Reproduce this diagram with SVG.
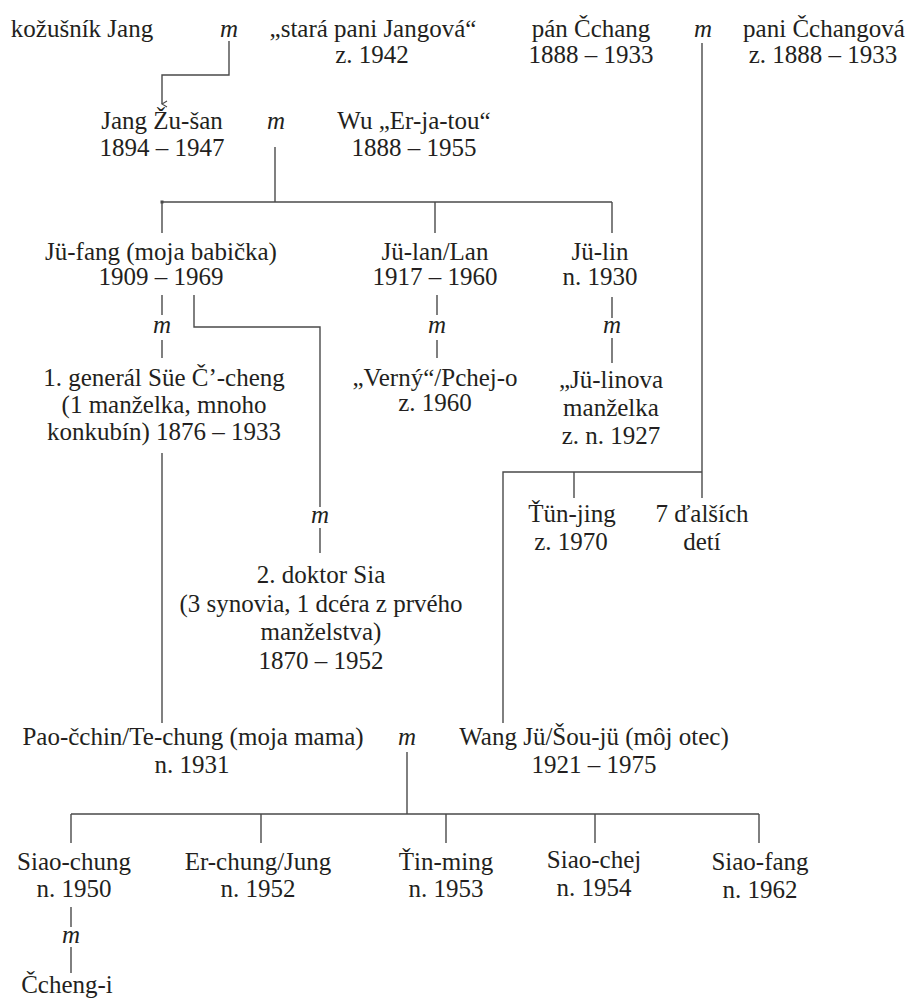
<svg xmlns="http://www.w3.org/2000/svg" width="912" height="1002" viewBox="0 0 912 1002">
<style>
text{font-family:'Liberation Serif','DejaVu Serif',serif;font-size:25px;fill:#231f20;text-anchor:middle}
.m{font-style:italic}
.c{fill:none;stroke:#4a4a4a;stroke-width:1.4}
</style>
<defs>
<marker id="arr" markerWidth="8" markerHeight="8" refX="4" refY="7" orient="auto-start-reverse" markerUnits="userSpaceOnUse" viewBox="0 0 8 8">
<path d="M1,2 L4,7 L7,2" fill="none" stroke="#4a4a4a" stroke-width="1.2"/>
</marker>
</defs>
<rect width="912" height="1002" fill="#fff"/>
<g id="connectors" class="c">
<path d="M229,41 V75 H162 V104" marker-end="url(#arr)"/>
<path d="M275,147 V202"/>
<path d="M162,202 H612"/>
<path d="M162,202 V233 M435,202 V233 M612,202 V233"/>
<path d="M162,295 V315 M162,340 V358"/>
<path d="M194,295 V327 H320 V507 M320,528 V553"/>
<path d="M162,453 V723"/>
<path d="M437,295 V315 M437,340 V358"/>
<path d="M612,297 V318 M612,338 V363"/>
<path d="M702,43 V472 H503 V723 M574,472 V498 M702,472 V498"/>
<path d="M407,752 V814 M71,814 H759 M71,814 V843 M261,814 V843 M446,814 V843 M595,814 V843 M759,814 V843"/>
<path d="M71,907 V927 M71,947 V973"/>
<rect x="160.5" y="200.5" width="3" height="3" fill="#4a4a4a" stroke="none"/>
</g>
<g font-family="Liberation Serif, DejaVu Serif, serif">
<g id="kozusnik"><text x="82" y="37">kožušník Jang</text></g>
<g id="m-top1"><text class="m" x="229" y="37">m</text></g>
<g id="stara"><text x="373" y="37">„stará pani Jangová“</text><text x="372" y="63">z. 1942</text></g>
<g id="chang"><text x="591" y="37">pán Čchang</text><text x="591" y="63">1888 – 1933</text></g>
<g id="m-top2"><text class="m" x="703" y="37">m</text></g>
<g id="changova"><text x="824" y="37">pani Čchangová</text><text x="823" y="63">z. 1888 – 1933</text></g>
<g id="zusan"><text x="162" y="129">Jang Žu-šan</text><text x="162" y="156">1894 – 1947</text></g>
<g id="m-zusan"><text class="m" x="276" y="129">m</text></g>
<g id="wu"><text x="414" y="129">Wu „Er-ja-tou“</text><text x="414" y="156">1888 – 1955</text></g>
<g id="jufang"><text x="161" y="260">Jü-fang (moja babička)</text><text x="161" y="285">1909 – 1969</text></g>
<g id="julan"><text x="435" y="260">Jü-lan/Lan</text><text x="435" y="285">1917 – 1960</text></g>
<g id="julin"><text x="600" y="260">Jü-lin</text><text x="600" y="285">n. 1930</text></g>
<g id="m-jufang"><text class="m" x="162" y="333">m</text></g>
<g id="m-julan"><text class="m" x="437" y="333">m</text></g>
<g id="m-julin"><text class="m" x="612" y="333">m</text></g>
<g id="sue"><text x="164" y="386">1. generál Süe Č’-cheng</text><text x="164" y="413">(1 manželka, mnoho</text><text x="164" y="440">konkubín) 1876 – 1933</text></g>
<g id="verny"><text x="435" y="386">„Verný“/Pchej-o</text><text x="435" y="411">z. 1960</text></g>
<g id="julinova"><text x="611" y="388">„Jü-linova</text><text x="611" y="416">manželka</text><text x="611" y="444">z. n. 1927</text></g>
<g id="tunjing"><text x="572" y="522">Ťün-jing</text><text x="571" y="550">z. 1970</text></g>
<g id="dalsich"><text x="702" y="522">7 ďalších</text><text x="702" y="550">detí</text></g>
<g id="m-sia"><text class="m" x="320" y="523">m</text></g>
<g id="sia"><text x="321" y="583">2. doktor Sia</text><text x="321" y="612">(3 synovia, 1 dcéra z prvého</text><text x="321" y="640">manželstva)</text><text x="321" y="669">1870 – 1952</text></g>
<g id="paocchin"><text x="193" y="745">Pao-čchin/Te-chung (moja mama)</text><text x="192" y="773">n. 1931</text></g>
<g id="m-parents"><text class="m" x="407" y="745">m</text></g>
<g id="wang"><text x="594" y="745">Wang Jü/Šou-jü (môj otec)</text><text x="594" y="773">1921 – 1975</text></g>
<g id="siaochung"><text x="74" y="870">Siao-chung</text><text x="74" y="897">n. 1950</text></g>
<g id="erchung"><text x="258" y="870">Er-chung/Jung</text><text x="258" y="897">n. 1952</text></g>
<g id="tinming"><text x="446" y="870">Ťin-ming</text><text x="446" y="897">n. 1953</text></g>
<g id="siaochej"><text x="594" y="868">Siao-chej</text><text x="594" y="896">n. 1954</text></g>
<g id="siaofang"><text x="760" y="870">Siao-fang</text><text x="760" y="898">n. 1962</text></g>
<g id="m-siaochung"><text class="m" x="71" y="943">m</text></g>
<g id="cchengi"><text x="67" y="993">Čcheng-i</text></g>
</g>
</svg>
